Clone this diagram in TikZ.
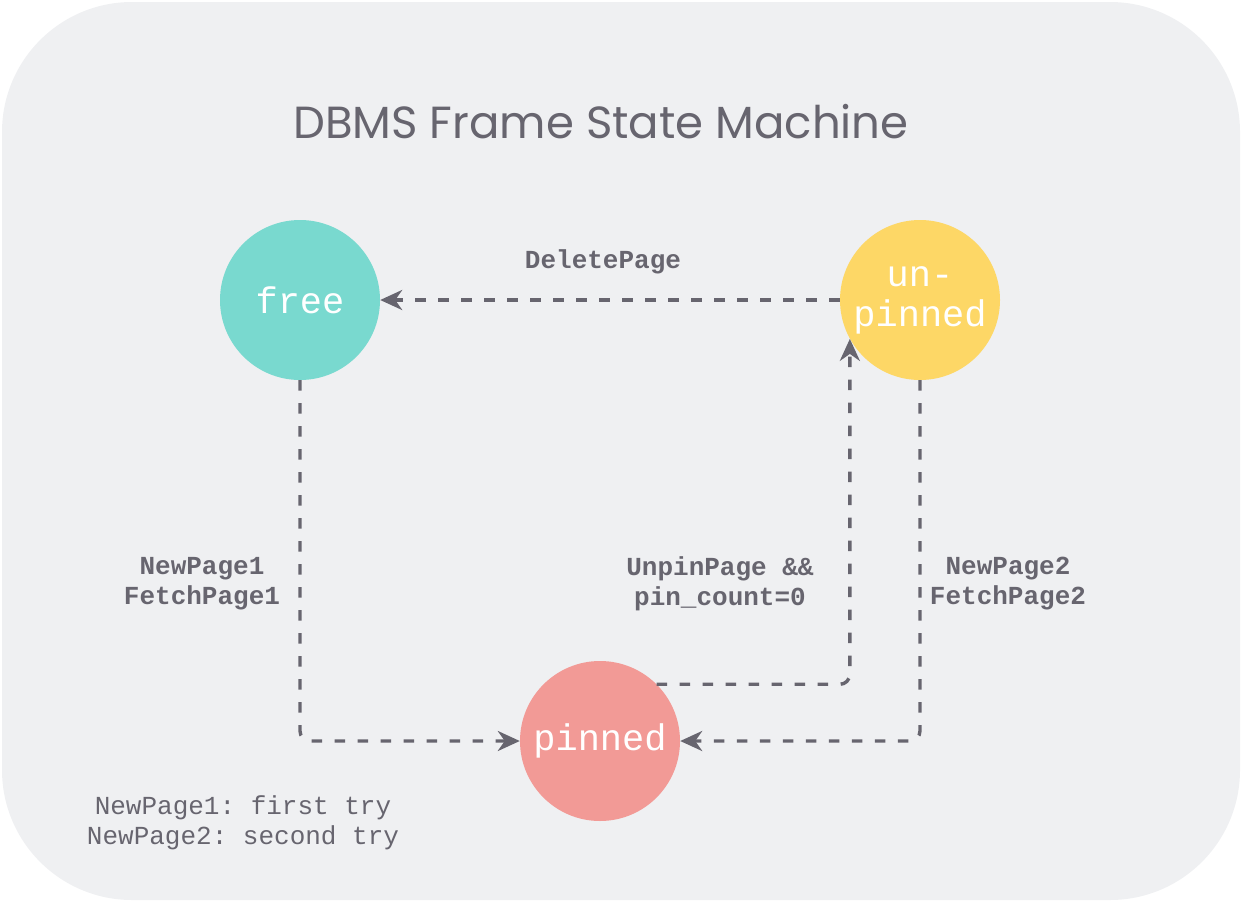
\documentclass[tikz,border=0pt]{standalone}
\usepackage{fontspec}
\usepackage{xcolor}
\usepackage{tikz}
\usetikzlibrary{arrows.meta}
\setmonofont{Liberation Mono}
\newfontfamily\titlefont{Poppins}
\definecolor{bgfill}{HTML}{EFF0F2}
\definecolor{edgegray}{HTML}{67656F}
\definecolor{freecol}{HTML}{79D9CF}
\definecolor{unpincol}{HTML}{FDD766}
\definecolor{pincol}{HTML}{F29A96}
\tikzset{
  state/.style={circle, minimum size=160pt, inner sep=0pt, text=white,
    font=\ttfamily\fontsize{37}{40}\selectfont, align=center},
  trans/.style={draw=edgegray, line width=3.4pt, dash pattern=on 10.5pt off 12.5pt,
    -{Stealth[length=22pt,width=20pt,inset=7pt]}, rounded corners=10pt},
  lbl/.style={text=edgegray, font=\ttfamily\bfseries\fontsize{26}{30}\selectfont, align=center},
  note/.style={text=edgegray, font=\ttfamily\fontsize{26}{30}\selectfont, align=center},
}

\begin{document}
\begin{tikzpicture}[x=1pt,y=-1pt]
\useasboundingbox (0,0) rectangle (1242,902);
\fill[bgfill, rounded corners=130pt] (2,2) rectangle (1240,900);
\node[text=edgegray, font=\titlefont\fontsize{45}{50}\selectfont] (title) at (601,122) {DBMS Frame State Machine};
%%
\node[state, fill=freecol] (free) at (300,300) {free};
\node[state, fill=unpincol] (unpinned) at (920,300) {un-\\pinned};
\node[state, fill=pincol] (pinned) at (600,741) {pinned};
%%
\draw[trans] (unpinned) -- (free);
\draw[trans] (free) |- (pinned);
\draw[trans] (unpinned) |- (pinned);
\draw[trans] (pinned.north east) -| (unpinned.209);
%%
\node[lbl] (delete) at (603,262) {DeletePage};
\node[lbl] (newpage1) at (202,584) {NewPage1\\FetchPage1};
\node[lbl] (unpin) at (720,584) {UnpinPage \&\&\\pin\_count=0};
\node[lbl] (newpage2) at (1008,584) {NewPage2\\FetchPage2};
\node[note] (legend) at (243,823) {NewPage1: first try\\NewPage2: second try};
\end{tikzpicture}
\end{document}
